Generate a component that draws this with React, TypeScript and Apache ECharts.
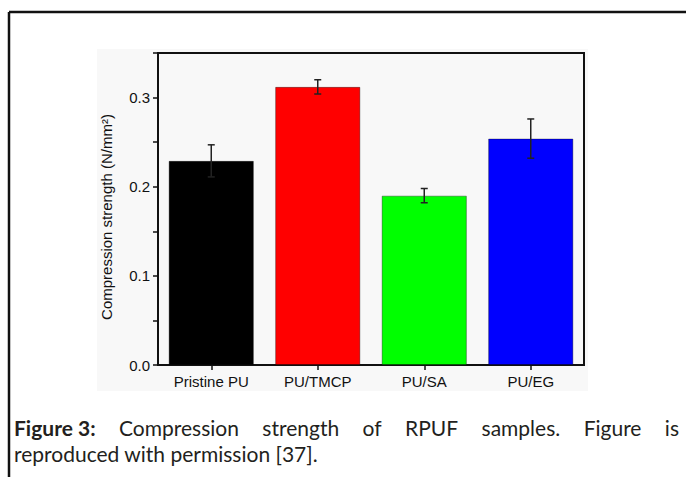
import React, { useEffect, useRef } from "react";
import * as echarts from "echarts";

const categories = ["Pristine PU", "PU/TMCP", "PU/SA", "PU/EG"];
const values = [0.229, 0.312, 0.19, 0.254];
const errors = [0.018, 0.008, 0.008, 0.022];
const barColors = ["#000000", "#ff0000", "#00ff00", "#0000ff"];
const yTicks = [0, 0.1, 0.2, 0.3];
const yAxisName = "Compression strength (N/mm²)";
const captionLine1 = ["Figure 3:", "Compression", "strength", "of", "RPUF", "samples.", "Figure", "is"];
const captionLine2 = "reproduced with permission [37].";

const CAP_FONT_FAMILY = "Lato";
const CAP_SIZE = 21;
const AX_FONT = "Liberation Sans, Arial";

function measure(text: string, font: string): number {
  const c = document.createElement("canvas");
  const ctx = c.getContext("2d");
  if (!ctx) return text.length * 10;
  ctx.font = font;
  return ctx.measureText(text).width;
}

export default function App() {
  const ref = useRef<HTMLDivElement>(null);
  useEffect(() => {
    if (!ref.current) return;
    const chart = echarts.init(ref.current, undefined, { renderer: "svg" });

    const left = 14;
    const right = 679;
    const fontOf = (i: number) => `${i === 0 ? "bold " : ""}${CAP_SIZE}px ${CAP_FONT_FAMILY}`;
    const widths = captionLine1.map((w, i) => measure(w, fontOf(i)));
    const total = widths.reduce((a, b) => a + b, 0);
    const gap = (right - left - total) / (captionLine1.length - 1);
    let cx = left;
    const line1Texts = captionLine1.map((w, i) => {
      const el = {
        type: "text",
        x: cx,
        y: 427,
        style: {
          text: w,
          font: fontOf(i),
          fill: "#231f20",
          textVerticalAlign: "middle",
        },
      };
      cx += widths[i] + gap;
      return el;
    });

    chart.setOption({
      animation: false,
      backgroundColor: "#ffffff",
      grid: {
        left: 158,
        right: 102,
        top: 53,
        bottom: 112,
        show: true,
        borderColor: "#111",
        borderWidth: 2,
        backgroundColor: "transparent",
      },
      xAxis: {
        type: "category",
        data: categories,
        boundaryGap: true,
        axisLine: { lineStyle: { color: "#111", width: 2 } },
        axisTick: { show: true, alignWithLabel: true, length: 5, lineStyle: { color: "#111", width: 1.5 } },
        axisLabel: { color: "#111", fontSize: 15, fontFamily: AX_FONT, margin: 9 },
        splitLine: { show: false },
      },
      yAxis: {
        type: "value",
        min: 0,
        max: 0.35,
        interval: 0.05,
        name: yAxisName,
        nameLocation: "middle",
        nameGap: 44,
        nameTextStyle: { color: "#111", fontSize: 15, fontFamily: AX_FONT, padding: [0, 16, 0, 0] },
        axisLine: { show: true, lineStyle: { color: "#111", width: 2 } },
        axisTick: { show: true, length: 5, lineStyle: { color: "#111", width: 1.5 } },
        axisLabel: {
          color: "#111",
          fontSize: 15,
          fontFamily: AX_FONT,
          margin: 8,
          formatter: (v: number) => {
            const hit = yTicks.find((t) => Math.abs(t - v) < 1e-6);
            return hit === undefined ? "" : hit.toFixed(1);
          },
        },
        splitLine: { show: false },
      },
      graphic: [
        {
          type: "rect",
          z: -10,
          shape: { x: 97, y: 49, width: 491, height: 342 },
          style: { fill: "#f8f8f8" },
          silent: true,
        },
        {
          type: "line",
          shape: { x1: 9, y1: 12, x2: 686, y2: 12 },
          style: { stroke: "#111", lineWidth: 2.5 },
        },
        {
          type: "line",
          shape: { x1: 9, y1: 12, x2: 9, y2: 477 },
          style: { stroke: "#111", lineWidth: 2.5 },
        },
        ...line1Texts,
        {
          type: "text",
          x: left,
          y: 453,
          style: {
            text: captionLine2,
            font: `${CAP_SIZE}px ${CAP_FONT_FAMILY}`,
            fill: "#231f20",
            textVerticalAlign: "middle",
          },
        },
      ],
      series: [
        {
          type: "bar",
          barWidth: "80%",
          data: values.map((v, i) => ({
            value: v,
            itemStyle: { color: barColors[i], borderColor: "rgba(0,0,0,0.35)", borderWidth: 1 },
          })),
          z: 2,
        },
        {
          type: "custom",
          z: 5,
          data: values.map((v, i) => [i, v, errors[i]]),
          renderItem: (params: any, api: any) => {
            const x = api.value(0);
            const v = api.value(1);
            const e = api.value(2);
            const hi = api.coord([x, v + e]);
            const lo = api.coord([x, v - e]);
            const cap = 3.5;
            const style = { stroke: "#222", lineWidth: 1.5 };
            return {
              type: "group",
              children: [
                { type: "line", shape: { x1: hi[0], y1: hi[1], x2: lo[0], y2: lo[1] }, style },
                { type: "line", shape: { x1: hi[0] - cap, y1: hi[1], x2: hi[0] + cap, y2: hi[1] }, style },
                { type: "line", shape: { x1: lo[0] - cap, y1: lo[1], x2: lo[0] + cap, y2: lo[1] }, style },
              ],
            };
          },
        },
      ],
    });
    return () => chart.dispose();
  }, []);
  return (
    <div
      ref={ref}
      style={{ position: "fixed", left: 0, top: 0, width: 686, height: 477 }}
    />
  );
}
